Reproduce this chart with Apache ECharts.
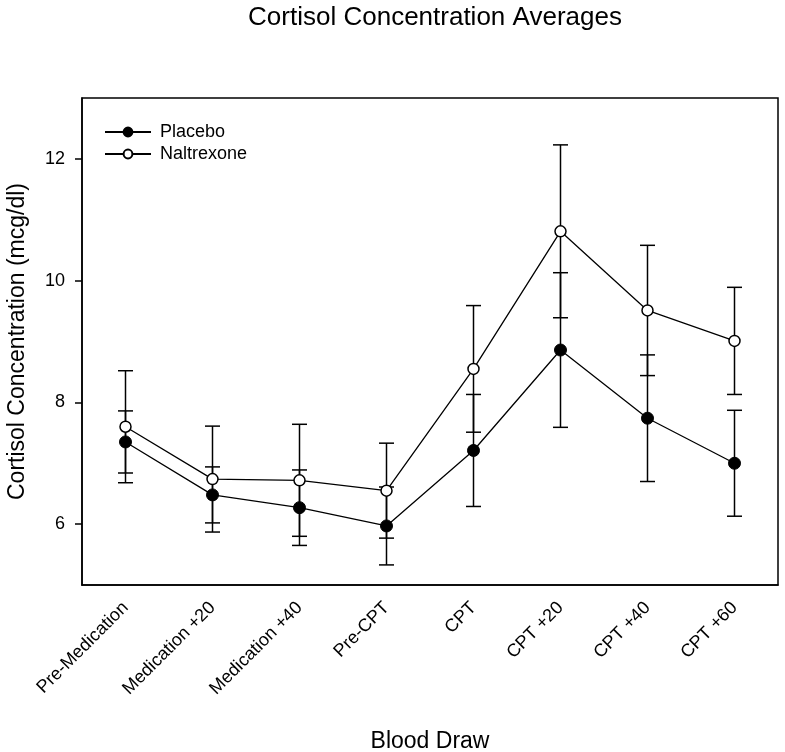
<!DOCTYPE html>
<html>
<head>
<meta charset="utf-8">
<script src="https://cdn.jsdelivr.net/npm/echarts@6/dist/echarts.min.js"></script>
<style>
html,body{margin:0;padding:0;background:#fff;}
#chart{width:785px;height:752px;}
</style>
</head>
<body>
<div id="chart"></div>
<script>
const categories = ['Pre-Medication','Medication +20','Medication +40','Pre-CPT','CPT','CPT +20','CPT +40','CPT +60'];
const placeboMean = [7.35, 6.48, 6.27, 5.97, 7.21, 8.86, 7.74, 7.00];
const placeboErr = [0.51, 0.46, 0.62, 0.64, 0.92, 1.27, 1.04, 0.87];
const naltrexoneMean = [7.60, 6.74, 6.72, 6.55, 8.55, 10.81, 9.51, 9.01];
const naltrexoneErr = [0.92, 0.87, 0.92, 0.78, 1.04, 1.42, 1.07, 0.88];
const yTicks = [6, 8, 10, 12];

const FONT = '"Liberation Sans", Arial, sans-serif';

function errData(mean, err) {
  return mean.map((m, i) => [i, m - err[i], m + err[i]]);
}

function renderErr(params, api) {
  const x = api.value(0);
  const lo = api.coord([x, api.value(1)]);
  const hi = api.coord([x, api.value(2)]);
  const hw = 7.5;
  const style = { stroke: '#000', lineWidth: 1.5, fill: null };
  return {
    type: 'group',
    children: [
      { type: 'line', shape: { x1: lo[0], y1: lo[1], x2: hi[0], y2: hi[1] }, style: style },
      { type: 'line', shape: { x1: lo[0] - hw, y1: lo[1], x2: lo[0] + hw, y2: lo[1] }, style: style },
      { type: 'line', shape: { x1: hi[0] - hw, y1: hi[1], x2: hi[0] + hw, y2: hi[1] }, style: style }
    ]
  };
}

const chart = echarts.init(document.getElementById('chart'), null, { renderer: 'canvas' });
chart.setOption({
  animation: false,
  backgroundColor: '#fff',
  title: {
    text: 'Cortisol Concentration Averages',
    left: 430, textAlign: 'center', top: 0,
    textStyle: { fontFamily: FONT, fontSize: 26, fontWeight: 'normal', color: '#000' }
  },
  legend: {
    orient: 'vertical',
    left: 99, top: 118,
    itemWidth: 46, itemHeight: 11, itemGap: 4,
    textStyle: { fontFamily: FONT, fontSize: 18, color: '#000', padding: [0, 0, 0, 4] },
    data: ['Placebo', 'Naltrexone']
  },
  grid: {
    left: 82, right: 7, top: 98, bottom: 167,
    outerBoundsMode: 'none',
    containLabel: false,
    show: true, borderColor: '#000', borderWidth: 1.5, backgroundColor: 'transparent'
  },
  xAxis: {
    type: 'category',
    data: categories,
    boundaryGap: true,
    name: 'Blood Draw',
    nameLocation: 'middle',
    nameGap: 145,
    nameTextStyle: { fontFamily: FONT, fontSize: 23, color: '#000' },
    axisLine: { lineStyle: { color: '#000', width: 1.5 } },
    axisTick: { alignWithLabel: true, length: 8, lineStyle: { color: '#000', width: 1.5 } },
    axisLabel: { rotate: 45, margin: 20, fontFamily: FONT, fontSize: 18, color: '#000', interval: 0 },
    splitLine: { show: false }
  },
  yAxis: {
    type: 'value',
    min: 5, max: 13,
    name: 'Cortisol Concentration (mcg/dl)',
    nameLocation: 'middle',
    nameGap: 53,
    nameTextStyle: { fontFamily: FONT, fontSize: 23, color: '#000' },
    axisLine: { show: true, lineStyle: { color: '#000', width: 1.5 } },
    axisTick: { show: true, length: 7, customValues: yTicks, lineStyle: { color: '#000', width: 1.5 } },
    axisLabel: { customValues: yTicks, margin: 17, fontFamily: FONT, fontSize: 18, color: '#000' },
    splitLine: { show: false }
  },
  series: [
    {
      name: 'PlaceboErr', type: 'custom', renderItem: renderErr,
      data: errData(placeboMean, placeboErr), z: 1, silent: true,
      encode: { x: 0, y: [1, 2] }
    },
    {
      name: 'NaltrexoneErr', type: 'custom', renderItem: renderErr,
      data: errData(naltrexoneMean, naltrexoneErr), z: 1, silent: true,
      encode: { x: 0, y: [1, 2] }
    },
    {
      name: 'Placebo', type: 'line', data: placeboMean, z: 3,
      symbol: 'circle', symbolSize: 12, showAllSymbol: true,
      lineStyle: { color: '#000', width: 1.3 },
      itemStyle: { color: '#000', borderColor: '#000', borderWidth: 1 }
    },
    {
      name: 'Naltrexone', type: 'line', data: naltrexoneMean, z: 3,
      symbol: 'circle', symbolSize: 11, showAllSymbol: true,
      lineStyle: { color: '#000', width: 1.3 },
      itemStyle: { color: '#fff', borderColor: '#000', borderWidth: 1.5 }
    }
  ]
});
</script>
</body>
</html>
